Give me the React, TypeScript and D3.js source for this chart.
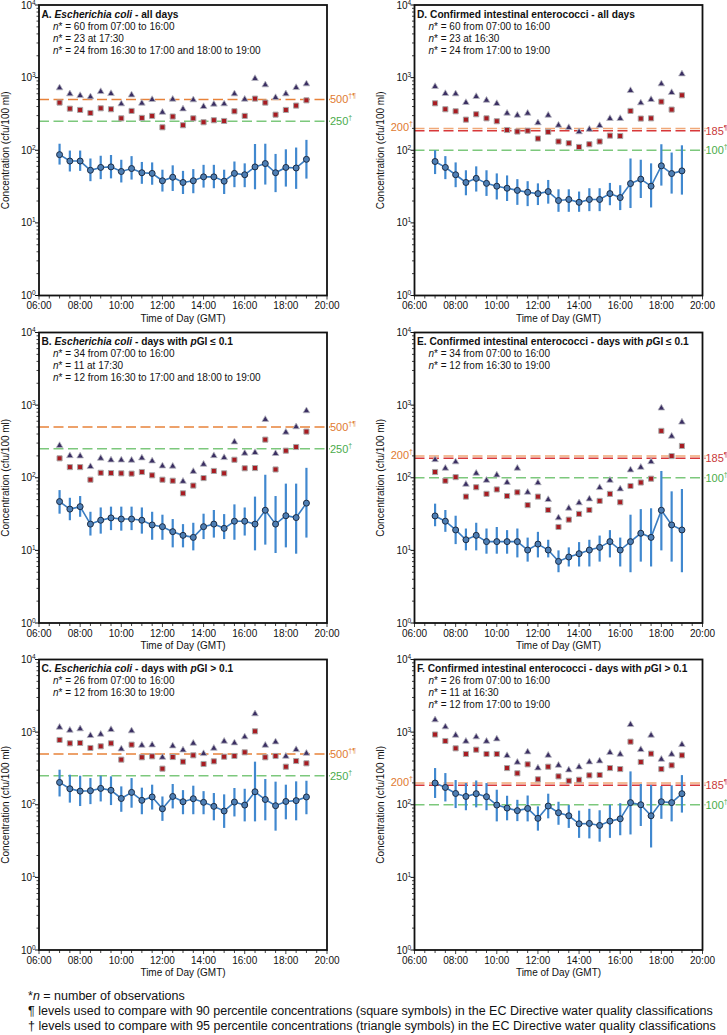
import React from "react";
import * as d3 from "d3";

// ---------- data ----------
const times = ["07:00","07:30","08:00","08:30","09:00","09:30","10:00","10:30","11:00","11:30","12:00","12:30","13:00","13:30","14:00","14:30","15:00","15:30","16:00","16:30","17:00","17:30","18:00","18:30","19:00"];
const xTickLabels = ["06:00","08:00","10:00","12:00","14:00","16:00","18:00","20:00"];
const yTickExps = [0, 1, 2, 3, 4];

// Panel A: E. coli, all days
const meanA = [87, 71, 71, 53, 58, 59, 51, 56, 49, 48, 38, 42.5, 36, 38, 43, 43, 37.5, 48, 46, 59, 65.6, 49, 58, 57, 75];
const loA = [63.5, 51, 52, 37.5, 40, 41, 36, 39.5, 34.5, 33.5, 27, 27.5, 25, 25.6, 30.6, 30, 25, 31, 31, 29, 33.7, 26.5, 31.6, 29.4, 40.7];
const hiA = [123, 99, 99, 77, 84, 86, 74, 83, 69, 68, 54, 62, 52, 55, 63, 63, 54, 70, 66, 122, 123, 89, 103, 109, 139];
const p90A = [453, 374, 359, 326, 378, 367, 275, 348, 279, 297, 207, 291, 221, 275, 243, 259, 253, 344, 297, 514, 453, 309, 359, 412, 487];
const p95A = [721, 596, 565, 542, 641, 602, 434, 577, 444, 498, 333, 503, 370, 493, 399, 430, 434, 596, 503, 969, 793, 530, 596, 728, 818];

// Panel B: E. coli, pGI <= 0.1
const meanB = [47, 37, 40, 23, 26, 28, 27, 27, 26, 22.4, 21.2, 18.1, 16.1, 15.1, 21.2, 23, 20.1, 25.2, 25.2, 23, 35.7, 23, 30, 28.3, 44.7];
const loB = [32, 26, 29, 16, 17, 19, 18.7, 19, 17, 14, 14, 11, 11, 10, 14.3, 15, 14.3, 14, 16, 10, 12, 9.2, 11, 9, 15];
const hiB = [67.6, 53, 56, 34, 39, 40, 40, 40, 39, 34, 31, 27, 23, 24, 32, 36, 31.6, 43, 39, 55, 110, 56, 83, 83, 137];
const p90B = [185, 140, 140, 94, 117, 116, 115, 114, 120, 108, 94, 91, 61, 78, 99, 124, 115, 177, 135, 136, 335, 130, 236, 265, 432];
const p95B = [277, 201, 199, 142, 185, 175, 175, 174, 187, 170, 145, 144, 89, 122, 153, 201, 189, 311, 217, 222, 634, 215, 423, 502, 835];

// Panel C: E. coli, pGI > 0.1
const meanC = [203, 166, 154, 156, 168, 158, 122, 148, 115, 128, 88, 130, 110, 121, 108, 95, 82, 109, 99, 151, 118, 97, 111, 114, 128];
const loC = [130, 107, 96, 102, 111, 99, 80, 91, 74, 86, 60, 89, 74, 74, 74, 61, 48, 69, 59, 59, 61, 44, 63, 61, 74];
const hiC = [304, 259, 251, 233, 251, 246, 179, 233, 172, 189, 130, 193, 159, 183, 154, 145, 139, 170, 166, 392, 226, 208, 189, 210, 214];
const p90C = [780, 701, 709, 605, 638, 701, 418, 672, 450, 464, 314, 454, 392, 479, 364, 396, 459, 469, 527, 1026, 450, 469, 334, 400, 372];
const p95C = [1166, 1060, 1106, 895, 934, 1082, 586, 1038, 658, 665, 450, 644, 567, 701, 505, 598, 747, 709, 858, 1782, 658, 732, 464, 573, 510];

// Panel D: enterococci, all days
const meanD = [70, 58, 46, 36, 41, 35, 32, 30, 28, 26.4, 25.3, 27, 20.3, 21, 19.2, 21, 21, 25.3, 22.3, 34.8, 40, 32, 61, 47.8, 52];
const loD = [47, 40, 31, 24, 27, 23.5, 21, 20, 17.7, 17, 17.6, 18.4, 14.2, 14.2, 14.2, 14.5, 14.5, 17.5, 15, 16, 22, 16.3, 32.6, 25.3, 24.5];
const hiD = [100, 83, 68, 53, 60, 53, 48, 45, 40, 37.5, 35, 39, 29, 29, 27, 30, 30, 35.5, 33, 77, 74, 66, 121, 93, 117];
const p90D = [443, 367, 344, 264, 313, 275, 251, 190, 181, 186, 145, 179, 132, 125, 111, 121, 132, 159, 157, 348, 273, 275, 467, 363, 571];
const p95D = [752, 602, 596, 453, 548, 487, 439, 323, 303, 323, 238, 303, 221, 205, 179, 194, 218, 273, 273, 662, 448, 498, 818, 622, 1123];

// Panel E: enterococci, pGI <= 0.1
const meanE = [29.8, 25.2, 19.1, 14, 16.1, 13.2, 13.2, 13.2, 13.2, 10.1, 12.2, 10.1, 7.05, 8.1, 9, 10.1, 11, 13.2, 10.1, 13.2, 17.2, 15.1, 35.7, 22.4, 19.1];
const loE = [21.5, 18, 12.2, 10, 10, 9, 9, 9, 8, 7, 8, 8, 5, 6, 6, 6, 7, 8, 6, 5, 7, 6, 10, 7, 5];
const hiE = [44, 36, 30, 20, 24, 20, 21, 19, 20, 15, 18, 14, 10, 11, 13, 14, 16, 19, 15, 31, 37, 38, 124, 65, 70];
const p90E = [120, 91, 102, 55, 74, 60, 69, 56, 63, 42, 55, 36, 21, 26.5, 31.8, 36, 48, 60, 46, 77, 86, 97, 442, 199, 274];
const p95E = [177, 135, 165, 81, 115, 92, 109, 86, 135, 63, 85, 50, 28, 38, 45, 51, 73, 92, 70, 128, 139, 166, 909, 373, 582];

// Panel F: enterococci, pGI > 0.1
const meanF = [199, 173, 143, 130, 142, 129, 99, 90, 83, 89, 65, 96, 77.6, 70.5, 54.7, 55.3, 51.9, 59.5, 64, 107, 100, 70.5, 110, 107, 142];
const loF = [124, 111, 90, 84, 92, 84, 59, 61, 59.5, 59, 44, 65, 53, 48, 35, 34.4, 31, 35, 38, 39, 51, 25.8, 64, 59, 78];
const hiF = [320, 273, 219, 199, 216, 199, 161, 133, 117, 134, 95, 142, 110, 99, 83, 88, 84, 100, 105, 288, 193, 187, 181, 185, 256];
const p90F = [927, 755, 598, 500, 573, 500, 500, 320, 271, 360, 224, 334, 246, 214, 221, 254, 257, 320, 310, 739, 388, 505, 310, 349, 479];
const p95F = [1472, 1178, 904, 747, 858, 747, 805, 474, 384, 533, 320, 479, 349, 301, 331, 388, 400, 522, 495, 1268, 573, 904, 422, 495, 672];

// Guideline levels
const ecoliRefs = [
  { v: 500, label: "500", sup: "†¶", color: "#e8823a", text: "#e07a30", side: "right" },
  { v: 250, label: "250", sup: "†", color: "#7cc87c", text: "#4bab4b", side: "right" },
];
const enteroRefs = [
  { v: 200, label: "200", sup: "†", color: "#f0a878", text: "#e07a30", side: "left" },
  { v: 185, label: "185", sup: "¶", color: "#d8383a", text: "#c8383a", side: "right" },
  { v: 100, label: "100", sup: "†", color: "#7cc87c", text: "#4bab4b", side: "right" },
];

const titleA = [{ t: "A. " }, { t: "Escherichia coli", i: true }, { t: " - all days" }];
const titleB = [{ t: "B. " }, { t: "Escherichia coli", i: true }, { t: " - days with " }, { t: "p", i: true }, { t: "GI ≤ 0.1" }];
const titleC = [{ t: "C. " }, { t: "Escherichia coli", i: true }, { t: " - days with " }, { t: "p", i: true }, { t: "GI > 0.1" }];
const titleD = [{ t: "D. Confirmed intestinal enterococci - all days" }];
const titleE = [{ t: "E. Confirmed intestinal enterococci - days with " }, { t: "p", i: true }, { t: "GI ≤ 0.1" }];
const titleF = [{ t: "F. Confirmed intestinal enterococci - days with " }, { t: "p", i: true }, { t: "GI > 0.1" }];

const nA = ["60 from 07:00 to 16:00", "23 at 17:30", "24 from 16:30 to 17:00 and 18:00 to 19:00"];
const nB = ["34 from 07:00 to 16:00", "11 at 17:30", "12 from 16:30 to 17:00 and 18:00 to 19:00"];
const nC = ["26 from 07:00 to 16:00", "12 from 16:30 to 19:00"];
const nD = ["60 from 07:00 to 16:00", "23 at 16:30", "24 from 17:00 to 19:00"];
const nE = ["34 from 07:00 to 16:00", "12 from 16:30 to 19:00"];
const nF = ["26 from 07:00 to 16:00", "11 at 16:30", "12 from 17:00 to 19:00"];

const footnote2 = " levels used to compare with 90 percentile concentrations (square symbols) in the EC Directive water quality classifications";
const footnote3 = " levels used to compare with 95 percentile concentrations (triangle symbols) in the EC Directive water quality classifications";

// ---------- layout ----------
const FONT = "'Liberation Sans', Arial, Helvetica, sans-serif";
const PW = 288;
const PH = 290.5;
const colLeft = [39, 414.5];
const rowTop = [5, 332.5, 659.5];

const toHours = (s: string) => {
  const [h, m] = s.split(":").map(Number);
  return h + m / 60;
};

function Panel(props: any) {
  const { left, top, mean, lo, hi, p90, p95, title, nLines, refs } = props;
  const x = d3.scaleLinear().domain([6, 20]).range([left, left + PW]);
  const y = d3.scaleLog().domain([1, 10000]).range([top + PH, top]);
  const bottom = top + PH;
  const right = left + PW;
  const xs = times.map(toHours);
  const pts = xs.map((h, i) => [x(h), y(mean[i])] as [number, number]);
  const line = d3.line()(pts) || "";
  const tri = d3.symbol().type(d3.symbolTriangle).size(19)() || "";
  const sq = d3.symbol().type(d3.symbolSquare).size(26)() || "";

  const minorY: number[] = [];
  yTickExps.slice(0, -1).forEach((e) => {
    for (let k = 2; k <= 9; k++) minorY.push(k * Math.pow(10, e));
  });
  const xMinor: number[] = [];
  for (let h = 6; h <= 20; h += 0.5) xMinor.push(h);

  return (
    <g fontFamily={FONT}>
      {/* reference lines */}
      {refs.map((r: any, i: number) => (
        <g key={"ref" + i}>
          <line x1={left} x2={right + 3} y1={y(r.v)} y2={y(r.v)} stroke={r.color} strokeWidth={1.5} strokeDasharray="10,4.5" />
          {r.side === "right" ? (
            <text x={right + 3} y={y(r.v) + 4} fontSize={11} fill={r.text}>
              {r.label}
              <tspan fontSize={7} dy={-5}>{r.sup}</tspan>
            </text>
          ) : (
            <text x={left - 1.5} y={y(r.v) + 3} fontSize={11} fill={r.text} textAnchor="end">
              {r.label}
              <tspan fontSize={7} dy={-5}>{r.sup}</tspan>
            </text>
          )}
        </g>
      ))}
      {/* error bars */}
      {xs.map((h, i) => (
        <line key={"eb" + i} x1={x(h)} x2={x(h)} y1={y(lo[i])} y2={y(hi[i])} stroke="#4088cf" strokeWidth={2.2} />
      ))}
      <path d={line} fill="none" stroke="#3a7cc0" strokeWidth={1.6} />
      {xs.map((h, i) => (
        <circle key={"c" + i} cx={x(h)} cy={y(mean[i])} r={3} fill="#4e7fb5" stroke="#1c2c44" strokeWidth={1} />
      ))}
      {xs.map((h, i) => (
        <path key={"s" + i} d={sq} transform={`translate(${x(h)},${y(p90[i])})`} fill="#a81c22" stroke="#a8a8a8" strokeWidth={1} />
      ))}
      {xs.map((h, i) => (
        <path key={"t" + i} d={tri} transform={`translate(${x(h)},${y(p95[i])})`} fill="#3a2e62" stroke="#b8b8c0" strokeWidth={0.8} />
      ))}
      {/* frame */}
      <rect x={left} y={top} width={PW} height={PH} fill="none" stroke="#111" strokeWidth={1.8} />
      {/* y ticks */}
      {yTickExps.map((e) => (
        <g key={"ym" + e}>
          <line x1={left - 4} x2={left} y1={y(Math.pow(10, e))} y2={y(Math.pow(10, e))} stroke="#111" strokeWidth={1} />
          <text x={left - 7} y={y(Math.pow(10, e)) + 3.5} fontSize={10} textAnchor="end" fill="#111">
            10
          </text>
          <text x={left - 7} y={y(Math.pow(10, e)) - 0.5} fontSize={6.5} fill="#111">
            {e}
          </text>
        </g>
      ))}
      {minorY.map((v, i) => (
        <line key={"yn" + i} x1={left - 2.5} x2={left} y1={y(v)} y2={y(v)} stroke="#111" strokeWidth={0.8} />
      ))}
      {/* x ticks */}
      {xMinor.map((h, i) => (
        <line key={"xn" + i} x1={x(h)} x2={x(h)} y1={bottom} y2={bottom + (h % 2 === 0 ? 4 : 3)} stroke="#111" strokeWidth={0.8} />
      ))}
      {xTickLabels.map((s) => (
        <text key={"xl" + s} x={x(toHours(s))} y={bottom + 13.5} fontSize={10} textAnchor="middle" fill="#111">
          {s}
        </text>
      ))}
      <text x={left + PW / 2} y={bottom + 26} fontSize={10} textAnchor="middle" fill="#111">
        Time of Day (GMT)
      </text>
      <text transform={`translate(${left - 30.5},${top + PH / 2}) rotate(-90)`} fontSize={10} textAnchor="middle" fill="#111">
        Concentration (cfu/100 ml)
      </text>
      {/* title */}
      <text x={left + 2.5} y={top + 12.5} fontSize={10.2} fontWeight="bold" fill="#111">
        {title.map((p: any, i: number) => (
          <tspan key={i} fontStyle={p.i ? "italic" : "normal"}>{p.t}</tspan>
        ))}
      </text>
      {nLines.map((s: string, i: number) => (
        <text key={"n" + i} x={left + 14} y={top + 24.5 + i * 12} fontSize={10} fill="#111">
          <tspan fontStyle="italic">n</tspan>
          <tspan>* = {s}</tspan>
        </text>
      ))}
    </g>
  );
}

export default function App() {
  const panels = [
    { col: 0, row: 0, mean: meanA, lo: loA, hi: hiA, p90: p90A, p95: p95A, title: titleA, nLines: nA, refs: ecoliRefs },
    { col: 0, row: 1, mean: meanB, lo: loB, hi: hiB, p90: p90B, p95: p95B, title: titleB, nLines: nB, refs: ecoliRefs },
    { col: 0, row: 2, mean: meanC, lo: loC, hi: hiC, p90: p90C, p95: p95C, title: titleC, nLines: nC, refs: ecoliRefs },
    { col: 1, row: 0, mean: meanD, lo: loD, hi: hiD, p90: p90D, p95: p95D, title: titleD, nLines: nD, refs: enteroRefs },
    { col: 1, row: 1, mean: meanE, lo: loE, hi: hiE, p90: p90E, p95: p95E, title: titleE, nLines: nE, refs: enteroRefs },
    { col: 1, row: 2, mean: meanF, lo: loF, hi: hiF, p90: p90F, p95: p95F, title: titleF, nLines: nF, refs: enteroRefs },
  ];
  return (
    <svg width={727} height={1035} style={{ position: "absolute", left: 0, top: 0, background: "#fff" }}>
      <rect width={727} height={1035} fill="#fff" />
      {panels.map((p, i) => (
        <Panel key={i} left={colLeft[p.col]} top={rowTop[p.row]} {...p} />
      ))}
      <g fontFamily={FONT} fontSize={12.5} fill="#111">
        <text x={28} y={1000}>
          *<tspan fontStyle="italic">n</tspan> = number of observations
        </text>
        <text x={28} y={1015}>¶{footnote2}</text>
        <text x={28} y={1030}>†{footnote3}</text>
      </g>
    </svg>
  );
}
